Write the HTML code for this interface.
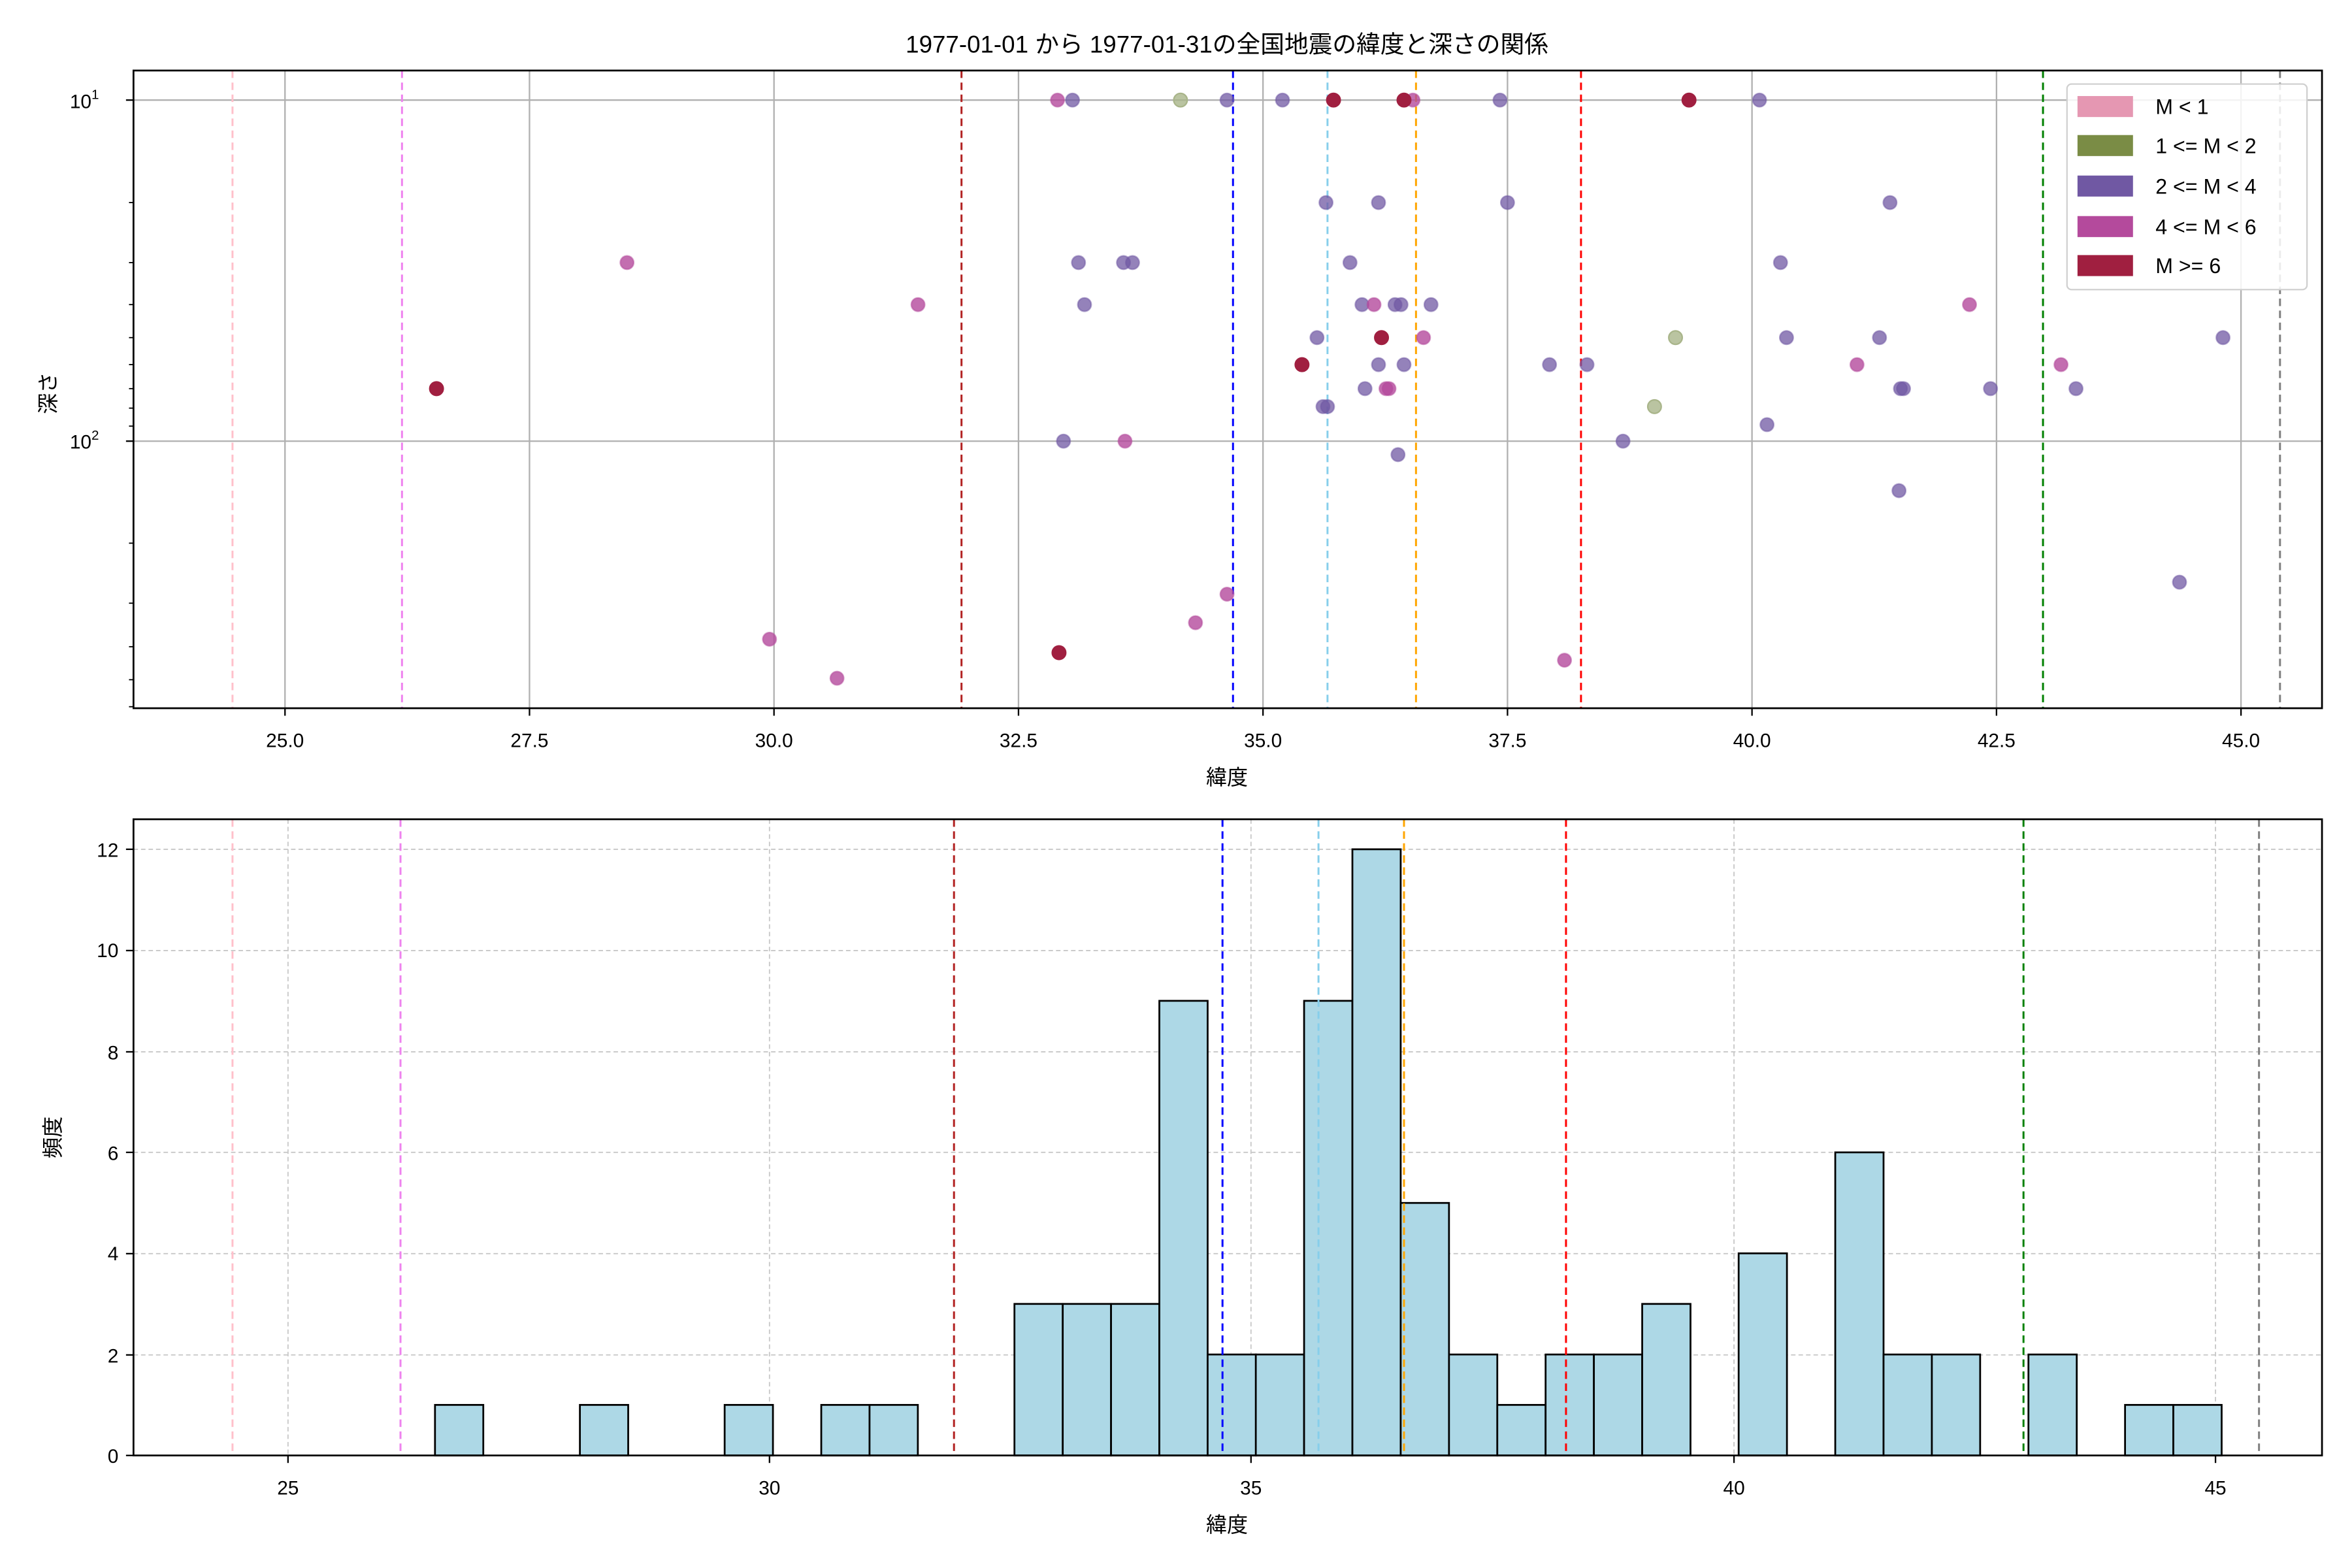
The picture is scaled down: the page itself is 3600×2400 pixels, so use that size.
<!DOCTYPE html>
<html><head><meta charset="utf-8"><style>
html,body{margin:0;padding:0;background:#fff}
svg{display:block}
text{font-family:"Liberation Sans","Noto Sans CJK JP",sans-serif;fill:#000}
</style></head><body>
<svg width="3600" height="2400" viewBox="0 0 1568 1045" preserveAspectRatio="none" xmlns="http://www.w3.org/2000/svg">
<rect width="1568" height="1045" fill="#fff"/>
<text x="818" y="35" font-size="16" text-anchor="middle">1977-01-01 から 1977-01-31の全国地震の緯度と深さの関係</text>

<!-- TOP PLOT -->
<g stroke="#b0b0b0" stroke-width="1">
<line x1="190" y1="47" x2="190" y2="472"/><line x1="353" y1="47" x2="353" y2="472"/>
<line x1="516" y1="47" x2="516" y2="472"/><line x1="679" y1="47" x2="679" y2="472"/>
<line x1="842" y1="47" x2="842" y2="472"/><line x1="1005" y1="47" x2="1005" y2="472"/>
<line x1="1168" y1="47" x2="1168" y2="472"/><line x1="1331" y1="47" x2="1331" y2="472"/>
<line x1="1494" y1="47" x2="1494" y2="472"/>
<line x1="89" y1="66.7" x2="1548" y2="66.7"/><line x1="89" y1="294" x2="1548" y2="294"/>
</g>
<g stroke-width="1.3" stroke-dasharray="5,3" fill="none">
<line x1="155" y1="47" x2="155" y2="472" stroke="pink"/>
<line x1="268" y1="47" x2="268" y2="472" stroke="violet"/>
<line x1="641" y1="47" x2="641" y2="472" stroke="#b22222"/>
<line x1="822" y1="47" x2="822" y2="472" stroke="blue"/>
<line x1="885" y1="47" x2="885" y2="472" stroke="skyblue"/>
<line x1="944" y1="47" x2="944" y2="472" stroke="orange"/>
<line x1="1054" y1="47" x2="1054" y2="472" stroke="red"/>
<line x1="1362" y1="47" x2="1362" y2="472" stroke="green"/>
<line x1="1520" y1="47" x2="1520" y2="472" stroke="gray"/>
</g>
<g stroke-width="1">
<!-- purple -->
<g fill="#7058a3" fill-opacity="0.75" stroke="#7058a3" stroke-opacity="0.5">
<circle cx="715" cy="66.7" r="4.5"/><circle cx="818" cy="66.7" r="4.5"/><circle cx="855" cy="66.7" r="4.5"/><circle cx="1000" cy="66.7" r="4.5"/><circle cx="1173" cy="66.7" r="4.5"/>
<circle cx="884" cy="135" r="4.5"/><circle cx="919" cy="135" r="4.5"/><circle cx="1005" cy="135" r="4.5"/><circle cx="1260" cy="135" r="4.5"/>
<circle cx="719" cy="175" r="4.5"/><circle cx="749" cy="175" r="4.5"/><circle cx="755" cy="175" r="4.5"/><circle cx="900" cy="175" r="4.5"/><circle cx="1187" cy="175" r="4.5"/>
<circle cx="723" cy="203" r="4.5"/><circle cx="908" cy="203" r="4.5"/><circle cx="930" cy="203" r="4.5"/><circle cx="934" cy="203" r="4.5"/><circle cx="954" cy="203" r="4.5"/>
<circle cx="878" cy="225" r="4.5"/><circle cx="1191" cy="225" r="4.5"/><circle cx="1253" cy="225" r="4.5"/><circle cx="1482" cy="225" r="4.5"/>
<circle cx="919" cy="243" r="4.5"/><circle cx="936" cy="243" r="4.5"/><circle cx="1033" cy="243" r="4.5"/><circle cx="1058" cy="243" r="4.5"/>
<circle cx="910" cy="259" r="4.5"/><circle cx="1267" cy="259" r="4.5"/><circle cx="1269" cy="259" r="4.5"/><circle cx="1327" cy="259" r="4.5"/><circle cx="1384" cy="259" r="4.5"/>
<circle cx="882" cy="271" r="4.5"/><circle cx="885" cy="271" r="4.5"/>
<circle cx="1178" cy="283" r="4.5"/><circle cx="709" cy="294" r="4.5"/><circle cx="1082" cy="294" r="4.5"/>
<circle cx="932" cy="303" r="4.5"/><circle cx="1266" cy="327" r="4.5"/><circle cx="1453" cy="388" r="4.5"/>
</g>
<!-- olive -->
<g fill="#a9b58a" fill-opacity="0.8" stroke="#a9b58a">
<circle cx="787" cy="66.7" r="4.5"/><circle cx="1117" cy="225" r="4.5"/><circle cx="1103" cy="271" r="4.5"/>
</g>
<!-- magenta -->
<g fill="#b44a9c" fill-opacity="0.8" stroke="#b44a9c" stroke-opacity="0.5">
<circle cx="705" cy="66.7" r="4.5"/><circle cx="942" cy="66.7" r="4.5"/>
<circle cx="418" cy="175" r="4.5"/><circle cx="612" cy="203" r="4.5"/><circle cx="916" cy="203" r="4.5"/><circle cx="1313" cy="203" r="4.5"/>
<circle cx="949" cy="225" r="4.5"/><circle cx="1238" cy="243" r="4.5"/><circle cx="1374" cy="243" r="4.5"/>
<circle cx="924" cy="259" r="4.5"/><circle cx="926" cy="259" r="4.5"/><circle cx="750" cy="294" r="4.5"/>
<circle cx="818" cy="396" r="4.5"/><circle cx="797" cy="415" r="4.5"/><circle cx="513" cy="426" r="4.5"/><circle cx="1043" cy="440" r="4.5"/><circle cx="558" cy="452" r="4.5"/>
</g>
<!-- crimson -->
<g fill="#a01f40" stroke="#a01f40">
<circle cx="889" cy="66.7" r="4.5"/><circle cx="936" cy="66.7" r="4.5"/><circle cx="1126" cy="66.7" r="4.5"/>
<circle cx="921" cy="225" r="4.5"/><circle cx="868" cy="243" r="4.5"/><circle cx="291" cy="259" r="4.5"/><circle cx="706" cy="435" r="4.5"/>
</g>
</g>
<rect x="89" y="47" width="1459" height="425" fill="none" stroke="#000" stroke-width="1.2"/>
<g stroke="#000" stroke-width="1">
<line x1="190" y1="472" x2="190" y2="477"/><line x1="353" y1="472" x2="353" y2="477"/><line x1="516" y1="472" x2="516" y2="477"/>
<line x1="679" y1="472" x2="679" y2="477"/><line x1="842" y1="472" x2="842" y2="477"/><line x1="1005" y1="472" x2="1005" y2="477"/>
<line x1="1168" y1="472" x2="1168" y2="477"/><line x1="1331" y1="472" x2="1331" y2="477"/><line x1="1494" y1="472" x2="1494" y2="477"/>
<line x1="84" y1="66.7" x2="89" y2="66.7"/><line x1="84" y1="294" x2="89" y2="294"/>
</g>
<g stroke="#000" stroke-width="0.8">
<line x1="86" y1="135" x2="89" y2="135"/><line x1="86" y1="175" x2="89" y2="175"/><line x1="86" y1="203" x2="89" y2="203"/>
<line x1="86" y1="225" x2="89" y2="225"/><line x1="86" y1="243" x2="89" y2="243"/><line x1="86" y1="259" x2="89" y2="259"/>
<line x1="86" y1="272" x2="89" y2="272"/><line x1="86" y1="284" x2="89" y2="284"/>
<line x1="86" y1="362" x2="89" y2="362"/><line x1="86" y1="402" x2="89" y2="402"/><line x1="86" y1="431" x2="89" y2="431"/>
<line x1="86" y1="453" x2="89" y2="453"/><line x1="86" y1="471" x2="89" y2="471"/>
</g>
<g font-size="13" text-anchor="middle">
<text x="190" y="498">25.0</text><text x="353" y="498">27.5</text><text x="516" y="498">30.0</text>
<text x="679" y="498">32.5</text><text x="842" y="498">35.0</text><text x="1005" y="498">37.5</text>
<text x="1168" y="498">40.0</text><text x="1331" y="498">42.5</text><text x="1494" y="498">45.0</text>
</g>
<text x="66" y="72" font-size="13" text-anchor="end">10<tspan font-size="9" dy="-6">1</tspan></text>
<text x="66" y="299" font-size="13" text-anchor="end">10<tspan font-size="9" dy="-6">2</tspan></text>
<text x="818" y="523" font-size="14" text-anchor="middle">緯度</text>
<text transform="translate(37,262) rotate(-90)" font-size="14" text-anchor="middle">深さ</text>

<!-- legend -->
<rect x="1378" y="56" width="160" height="137" rx="3" fill="#fff" fill-opacity="0.85" stroke="#d0d0d0"/>
<rect x="1385" y="64" width="37" height="14" fill="#e597b2"/>
<rect x="1385" y="90" width="37" height="14" fill="#7a8c45"/>
<rect x="1385" y="117" width="37" height="14" fill="#7058a3"/>
<rect x="1385" y="144" width="37" height="14" fill="#b44a9c"/>
<rect x="1385" y="170" width="37" height="14" fill="#a01f40"/>
<g font-size="14">
<text x="1437" y="76">M &lt; 1</text><text x="1437" y="102">1 &lt;= M &lt; 2</text>
<text x="1437" y="129">2 &lt;= M &lt; 4</text><text x="1437" y="156">4 &lt;= M &lt; 6</text>
<text x="1437" y="182">M &gt;= 6</text>
</g>

<!-- BOTTOM PLOT -->
<g stroke="#c8c8c8" stroke-width="0.8" stroke-dasharray="3,2">
<line x1="192" y1="546" x2="192" y2="970"/><line x1="513" y1="546" x2="513" y2="970"/>
<line x1="834" y1="546" x2="834" y2="970"/><line x1="1156" y1="546" x2="1156" y2="970"/>
<line x1="1477" y1="546" x2="1477" y2="970"/>
<line x1="89" y1="903" x2="1548" y2="903"/><line x1="89" y1="835.5" x2="1548" y2="835.5"/>
<line x1="89" y1="768" x2="1548" y2="768"/><line x1="89" y1="701" x2="1548" y2="701"/>
<line x1="89" y1="633.5" x2="1548" y2="633.5"/><line x1="89" y1="566" x2="1548" y2="566"/>
</g>
<g fill="#add8e6" stroke="#000" stroke-width="1.2">
<rect x="290" y="936.3" width="32.2" height="33.7"/>
<rect x="386.6" y="936.3" width="32.2" height="33.7"/>
<rect x="483.1" y="936.3" width="32.2" height="33.7"/>
<rect x="547.5" y="936.3" width="32.2" height="33.7"/>
<rect x="579.7" y="936.3" width="32.2" height="33.7"/>
<rect x="676.3" y="869" width="32.2" height="101"/>
<rect x="708.5" y="869" width="32.2" height="101"/>
<rect x="740.7" y="869" width="32.2" height="101"/>
<rect x="772.9" y="667" width="32.2" height="303"/>
<rect x="805.1" y="902.7" width="32.2" height="67.3"/>
<rect x="837.2" y="902.7" width="32.2" height="67.3"/>
<rect x="869.4" y="667" width="32.2" height="303"/>
<rect x="901.6" y="566" width="32.2" height="404"/>
<rect x="933.8" y="801.7" width="32.2" height="168.3"/>
<rect x="966" y="902.7" width="32.2" height="67.3"/>
<rect x="998.2" y="936.3" width="32.2" height="33.7"/>
<rect x="1030.4" y="902.7" width="32.2" height="67.3"/>
<rect x="1062.6" y="902.7" width="32.2" height="67.3"/>
<rect x="1094.8" y="869" width="32.2" height="101"/>
<rect x="1159.1" y="835.3" width="32.2" height="134.7"/>
<rect x="1223.5" y="768" width="32.2" height="202"/>
<rect x="1255.7" y="902.7" width="32.2" height="67.3"/>
<rect x="1287.9" y="902.7" width="32.2" height="67.3"/>
<rect x="1352.3" y="902.7" width="32.2" height="67.3"/>
<rect x="1416.7" y="936.3" width="32.2" height="33.7"/>
<rect x="1448.9" y="936.3" width="32.2" height="33.7"/>
</g>
<g stroke-width="1.3" stroke-dasharray="5,3" fill="none">
<line x1="155" y1="546" x2="155" y2="970" stroke="pink"/>
<line x1="267" y1="546" x2="267" y2="970" stroke="violet"/>
<line x1="636" y1="546" x2="636" y2="970" stroke="#b22222"/>
<line x1="815" y1="546" x2="815" y2="970" stroke="blue"/>
<line x1="879" y1="546" x2="879" y2="970" stroke="skyblue"/>
<line x1="936" y1="546" x2="936" y2="970" stroke="orange"/>
<line x1="1044" y1="546" x2="1044" y2="970" stroke="red"/>
<line x1="1349" y1="546" x2="1349" y2="970" stroke="green"/>
<line x1="1506" y1="546" x2="1506" y2="970" stroke="gray"/>
</g>
<rect x="89" y="546" width="1459" height="424" fill="none" stroke="#000" stroke-width="1.2"/>
<g stroke="#000" stroke-width="1">
<line x1="192" y1="970" x2="192" y2="975"/><line x1="513" y1="970" x2="513" y2="975"/><line x1="834" y1="970" x2="834" y2="975"/>
<line x1="1156" y1="970" x2="1156" y2="975"/><line x1="1477" y1="970" x2="1477" y2="975"/>
<line x1="84" y1="970" x2="89" y2="970"/><line x1="84" y1="903" x2="89" y2="903"/><line x1="84" y1="835.5" x2="89" y2="835.5"/>
<line x1="84" y1="768" x2="89" y2="768"/><line x1="84" y1="701" x2="89" y2="701"/><line x1="84" y1="633.5" x2="89" y2="633.5"/>
<line x1="84" y1="566" x2="89" y2="566"/>
</g>
<g font-size="13" text-anchor="middle">
<text x="192" y="996">25</text><text x="513" y="996">30</text><text x="834" y="996">35</text>
<text x="1156" y="996">40</text><text x="1477" y="996">45</text>
</g>
<g font-size="13" text-anchor="end">
<text x="79" y="975">0</text><text x="79" y="908">2</text><text x="79" y="840">4</text>
<text x="79" y="773">6</text><text x="79" y="706">8</text><text x="79" y="638">10</text><text x="79" y="571">12</text>
</g>
<text x="818" y="1021" font-size="14" text-anchor="middle">緯度</text>
<text transform="translate(40,758) rotate(-90)" font-size="14" text-anchor="middle">頻度</text>
</svg>
</body></html>
